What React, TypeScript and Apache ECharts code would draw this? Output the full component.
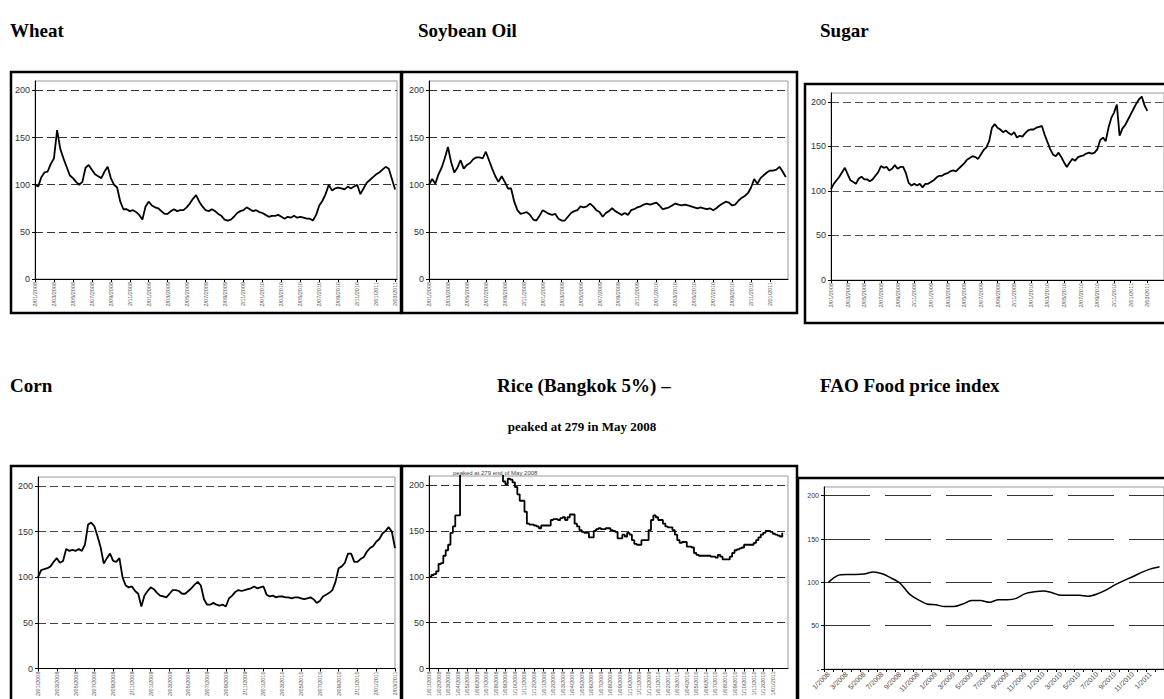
import React, { useEffect, useRef } from "react";
import * as echarts from "echarts";

// ---------- tick labels ----------
const dailyTicks = [
  "2/01/2008", "2/03/2008", "2/05/2008", "2/07/2008", "2/09/2008", "2/11/2008",
  "2/01/2009", "2/03/2009", "2/05/2009", "2/07/2009", "2/09/2009", "2/11/2009",
  "2/01/2010", "2/03/2010", "2/05/2010", "2/07/2010", "2/09/2010", "2/11/2010",
  "2/01/2011", "2/03/2011",
];
const soyTicks = dailyTicks.slice(0, 19);
const riceTicks = [
  "1/01/2008", "1/02/2008", "1/03/2008", "1/04/2008", "1/05/2008", "1/06/2008",
  "1/07/2008", "1/08/2008", "1/09/2008", "1/10/2008", "1/11/2008", "1/12/2008",
  "1/01/2009", "1/02/2009", "1/03/2009", "1/04/2009", "1/05/2009", "1/06/2009",
  "1/07/2009", "1/08/2009", "1/09/2009", "1/10/2009", "1/11/2009", "1/12/2009",
  "1/01/2010", "1/02/2010", "1/03/2010", "1/04/2010", "1/05/2010", "1/06/2010",
  "1/07/2010", "1/08/2010", "1/09/2010", "1/10/2010", "1/11/2010", "1/12/2010",
  "1/01/2011",
];
const faoMonths = [
  "1/2008", "2/2008", "3/2008", "4/2008", "5/2008", "6/2008", "7/2008", "8/2008", "9/2008", "10/2008", "11/2008", "12/2008",
  "1/2009", "2/2009", "3/2009", "4/2009", "5/2009", "6/2009", "7/2009", "8/2009", "9/2009", "10/2009", "11/2009", "12/2009",
  "1/2010", "2/2010", "3/2010", "4/2010", "5/2010", "6/2010", "7/2010", "8/2010", "9/2010", "10/2010", "11/2010", "12/2010",
  "1/2011", "2/2011",
];
const yTicks = [0, 50, 100, 150, 200];

// ---------- series values (index: 2 Jan 2008 = 100) ----------
// sampled every 1/3 month
const wheat = [
  100, 98, 108, 113, 114, 122, 128, 158, 138, 128,
  119, 110, 107, 103, 100, 103, 118, 121, 116, 111,
  109, 107, 114, 119, 107, 100, 97, 82, 74, 74,
  72, 73, 71, 68, 63, 77, 82, 78, 76, 75,
  72, 69, 69, 72, 74, 72, 73, 73, 76, 80,
  85, 89, 82, 77, 73, 72, 74, 72, 69, 67,
  63, 62, 63, 66, 70, 72, 73, 76, 74, 72,
  73, 71, 70, 68, 66, 67, 67, 68, 66, 64,
  66, 65, 67, 65, 66, 65, 64, 64, 62, 68,
  78, 83, 90, 100, 94, 96, 97, 96, 95, 98,
  96, 98, 100, 90, 96, 102, 105, 108, 111, 113,
  116, 119, 117, 106, 95,
];
const soybeanOil = [
  100, 106, 101, 111, 118, 128, 140, 124, 113, 118,
  126, 117, 121, 123, 127, 129, 129, 128, 135, 126,
  117, 109, 103, 109, 103, 96, 96, 82, 73, 69,
  70, 71, 68, 63, 62, 67, 73, 71, 69, 68,
  69, 64, 62, 62, 66, 70, 72, 73, 77, 76,
  77, 80, 77, 73, 71, 66, 70, 72, 75, 72,
  70, 68, 70, 68, 73, 74, 76, 77, 79, 80,
  79, 80, 81, 78, 74, 75, 76, 78, 80, 79,
  78, 79, 78, 77, 76, 75, 76, 75, 74, 75,
  73, 75, 78, 80, 82, 81, 78, 79, 83, 86,
  88, 91, 97, 106, 101, 107, 110, 113, 115, 115,
  116, 119, 114, 108,
];
const sugar = [
  102, 108, 112, 116, 121, 126, 119, 112, 110, 108,
  114, 116, 113, 113, 111, 113, 117, 121, 128, 126,
  127, 123, 125, 129, 125, 127, 127, 120, 109, 106,
  108, 106, 108, 104, 108, 108, 110, 112, 115, 117,
  117, 119, 120, 122, 123, 122, 125, 128, 131, 135,
  137, 139, 138, 136, 141, 146, 149, 156, 171, 175,
  171, 169, 166, 168, 165, 163, 166, 160, 162, 161,
  165, 168, 169, 169, 171, 172, 173, 163, 155, 147,
  141, 139, 143, 138, 132, 127, 132, 136, 134, 138,
  139, 140, 142, 143, 142, 143, 147, 157, 160, 156,
  171, 182, 188, 197, 162, 170, 174, 180, 186, 192,
  198, 203, 206, 196, 190,
];
const corn = [
  100, 108, 109, 110, 112, 117, 121, 116, 118, 131,
  129, 130, 129, 131, 129, 136, 158, 160, 156, 145,
  133, 115, 121, 126, 118, 117, 121, 100, 91, 89,
  90, 85, 82, 68, 80, 85, 89, 87, 83, 80,
  79, 78, 82, 86, 86, 85, 82, 82, 85, 88,
  92, 95, 91, 76, 70, 70, 72, 70, 69, 70,
  68, 77, 80, 84, 86, 85, 86, 87, 88, 90,
  88, 89, 90, 81, 79, 80, 78, 79, 79, 78,
  78, 77, 78, 78, 77, 76, 77, 78, 76, 72,
  74, 79, 81, 83, 86, 95, 110, 112, 116, 126,
  126, 117, 117, 120, 122, 128, 132, 134, 139, 142,
  148, 151, 155, 150, 132,
];
// weekly (every 1/4 month)
const rice = [
  100, 102, 103, 106, 114, 115, 123, 129, 135, 148,
  155, 167, 167, 225, 240, 255, 265, 272, 278, 279,
  279, 270, 262, 255, 248, 240, 232, 225, 218, 215,
  212, 204, 201, 207, 206, 203, 198, 190, 183, 183,
  171, 158, 157, 157, 156, 155, 153, 156, 156, 156,
  156, 162, 163, 163, 162, 164, 165, 162, 165, 168,
  168, 158, 155, 151, 149, 148, 148, 143, 143, 150,
  152, 153, 152, 152, 153, 153, 151, 150, 149, 142,
  142, 146, 144, 148, 146, 140, 136, 135, 135, 140,
  140, 140, 151, 162, 167, 165, 162, 162, 158, 155,
  154, 154, 151, 146, 140, 137, 138, 138, 133, 133,
  132, 126, 124, 123, 123, 123, 123, 123, 122, 122,
  121, 124, 122, 119, 119, 119, 122, 126, 129, 130,
  131, 132, 135, 135, 135, 135, 137, 140, 143, 146,
  148, 150, 150, 149, 147, 146, 145, 144, 148,
];
// monthly
const faoIndex = [
  100, 107.7, 109, 109, 109.5, 112, 110, 105, 99, 87, 80, 75,
  74, 72, 72, 75, 79, 79, 77, 80, 80, 81.5, 87, 89,
  90, 88, 85, 85, 85, 84, 86.5, 91, 97, 102, 106.5, 111.5,
  115.5, 118,
];

const FONT_SANS = '"Liberation Sans", Arial, sans-serif';
const FONT_SERIF = '"Liberation Serif", "Times New Roman", serif';

export default function App() {
  const ref = useRef<HTMLDivElement>(null);

  useEffect(() => {
    if (!ref.current) return;
    const chart = echarts.init(ref.current, undefined, { renderer: "svg" });

    const grids = [
      { left: 35, top: 81, width: 362, height: 198 },
      { left: 429, top: 81, width: 359, height: 198 },
      { left: 831, top: 93, width: 351, height: 187 },
      { left: 38, top: 477, width: 357, height: 195 },
      { left: 429, top: 476, width: 359, height: 196 },
      { left: 824, top: 487, width: 346, height: 182 },
    ].map((g) => ({ ...g, show: true, borderColor: "#9a9a9a", borderWidth: 1 }));

    const valueX = (gridIndex: number, max: number, interval: number, ticks: string[], fontSize: number) => {
      const vals = ticks.map((_, k) => k * interval);
      return {
        type: "value",
        gridIndex,
        min: 0,
        max,
        interval,
        axisLine: { show: true, lineStyle: { color: "#000", width: 1 } },
        axisTick: { show: true, length: 3, customValues: vals, lineStyle: { color: "#000" } },
        splitLine: { show: false },
        axisLabel: {
          customValues: vals,
          rotate: 90,
          fontSize,
          fontFamily: FONT_SANS,
          color: "#555",
          margin: 3,
          formatter: (v: number) => {
            const k = Math.round(v / interval);
            return Math.abs(v - k * interval) < 1e-6 && k < ticks.length ? ticks[k] : "";
          },
        },
      };
    };

    const yAx = (gridIndex: number, dash: number[], color: string, fontSize: number, zeroLabel?: string) => ({
      type: "value",
      gridIndex,
      min: 0,
      max: 210,
      interval: 50,
      axisLine: { show: true, lineStyle: { color: "#000", width: 1 } },
      axisTick: { show: true, length: 3, customValues: yTicks, lineStyle: { color: "#000" } },
      axisLabel: {
        customValues: yTicks,
        fontSize,
        fontFamily: FONT_SANS,
        color: "#333",
        margin: 5,
        formatter: (v: number) => (v % 50 === 0 ? (v === 0 && zeroLabel ? zeroLabel : String(v)) : ""),
      },
      splitLine: { show: true, lineStyle: { type: dash, color, width: 1 } },
    });

    const lineSeries = (i: number, values: number[], step: number, extra: any = {}) => ({
      type: "line",
      xAxisIndex: i,
      yAxisIndex: i,
      data: values.map((v, k) => [k * step, v]),
      showSymbol: false,
      symbol: "none",
      clip: true,
      lineStyle: { color: "#000", width: 1.8 },
      silent: true,
      ...extra,
    });

    const frame = (x: number, y: number, w: number, h: number) => ({
      type: "rect",
      shape: { x, y, width: w, height: h },
      style: { fill: "none", stroke: "#000", lineWidth: 2.5 },
      silent: true,
      z: 100,
    });
    const title = (text: string, x: number, y: number, size = 19, align = "left") => ({
      type: "text",
      x,
      y,
      style: { text, font: `bold ${size}px ${FONT_SERIF}`, fill: "#000", align, verticalAlign: "middle" },
      silent: true,
      z: 100,
    });

    const option: any = {
      animation: false,
      backgroundColor: "#fff",
      grid: grids,
      xAxis: [
        valueX(0, 38.2, 2, dailyTicks, 5.5),
        valueX(1, 37.9, 2, soyTicks, 5.5),
        valueX(2, 40, 2, dailyTicks, 5.5),
        valueX(3, 38, 2, dailyTicks, 5.5),
        valueX(4, 37.6, 1, riceTicks, 5.5),
        {
          type: "category",
          gridIndex: 5,
          data: faoMonths,
          boundaryGap: true,
          axisLine: { show: true, lineStyle: { color: "#000", width: 1 } },
          axisTick: { show: true, length: 3, interval: 0, lineStyle: { color: "#000" } },
          axisLabel: { interval: 1, rotate: 45, fontSize: 7, fontFamily: FONT_SANS, color: "#444", margin: 4 },
          splitLine: { show: false },
        },
      ],
      yAxis: [
        yAx(0, [8, 4], "#333", 9),
        yAx(1, [8, 4], "#333", 9),
        yAx(2, [8, 4], "#555", 9),
        yAx(3, [8, 4], "#444", 9),
        yAx(4, [8, 4], "#333", 9),
        yAx(5, [46, 15], "#333", 7, "-"),
      ],
      series: [
        lineSeries(0, wheat, 1 / 3),
        lineSeries(1, soybeanOil, 1 / 3),
        lineSeries(2, sugar, 1 / 3),
        lineSeries(3, corn, 1 / 3),
        lineSeries(4, rice, 1 / 4, { step: "end" }),
        {
          type: "line",
          xAxisIndex: 5,
          yAxisIndex: 5,
          data: faoIndex,
          showSymbol: false,
          symbol: "none",
          smooth: 0.3,
          lineStyle: { color: "#000", width: 1.5 },
          silent: true,
        },
      ],
      graphic: [
        frame(11, 72, 390, 241),
        frame(402, 72, 395, 241),
        frame(805, 84, 400, 239),
        frame(11, 466, 390, 300),
        frame(402, 466, 395, 300),
        frame(798, 478, 400, 300),
        title("Wheat", 10, 30),
        title("Soybean Oil", 418, 30),
        title("Sugar", 820, 30),
        title("Corn", 10, 385),
        title("Rice (Bangkok 5%) \u2013", 497, 385),
        title("FAO Food price index", 820, 385),
        title("peaked at 279 in May 2008", 582, 426, 13, "center"),
        {
          type: "text",
          x: 453,
          y: 473,
          style: { text: "peaked at 279 end of May 2008", font: `6px ${FONT_SANS}`, fill: "#444", align: "left", verticalAlign: "middle" },
          silent: true,
          z: 100,
        },
      ],
    };

    chart.setOption(option);
    return () => chart.dispose();
  }, []);

  return (
    <div style={{ position: "absolute", left: 0, top: 0, width: 1164, height: 699, overflow: "hidden", background: "#fff" }}>
      <div ref={ref} style={{ width: 1164, height: 699 }} />
    </div>
  );
}
